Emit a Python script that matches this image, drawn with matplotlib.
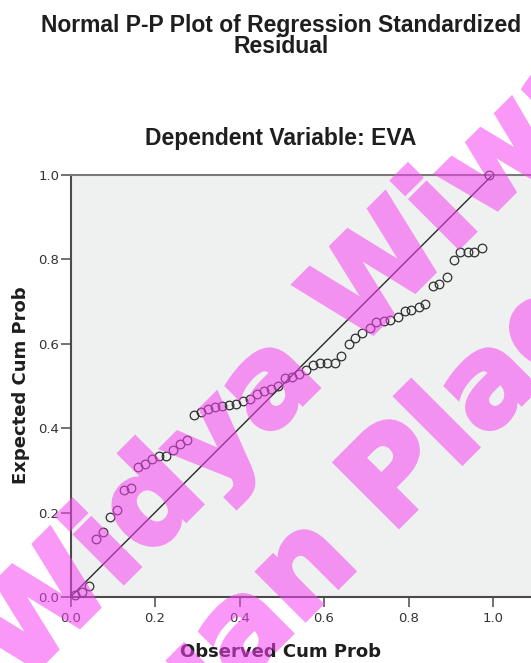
"""SPSS-style normal P-P plot of regression standardized residuals (DV: EVA)."""

import matplotlib

matplotlib.use("Agg")
import matplotlib.patheffects as pe
import matplotlib.pyplot as plt

W, H, DPI = 531, 663, 100

obs_cum_prob = [
    0.010, 0.027, 0.044, 0.060, 0.077, 0.093, 0.110, 0.127, 0.143, 0.160,
    0.176, 0.193, 0.210, 0.226, 0.243, 0.259, 0.276, 0.293, 0.309, 0.326,
    0.342, 0.359, 0.376, 0.392, 0.409, 0.425, 0.442, 0.459, 0.475, 0.492,
    0.508, 0.525, 0.542, 0.558, 0.575, 0.591, 0.608, 0.625, 0.641, 0.658,
    0.674, 0.691, 0.708, 0.724, 0.741, 0.757, 0.774, 0.791, 0.807, 0.824,
    0.840, 0.857, 0.873, 0.890, 0.907, 0.923, 0.940, 0.956, 0.973, 0.990,
]
exp_cum_prob = [
    0.005, 0.013, 0.025, 0.137, 0.154, 0.190, 0.207, 0.253, 0.257, 0.307,
    0.314, 0.326, 0.333, 0.333, 0.347, 0.361, 0.372, 0.430, 0.438, 0.445,
    0.450, 0.452, 0.455, 0.456, 0.463, 0.469, 0.481, 0.487, 0.492, 0.500,
    0.518, 0.520, 0.527, 0.537, 0.550, 0.553, 0.553, 0.553, 0.570, 0.598,
    0.614, 0.626, 0.636, 0.650, 0.654, 0.656, 0.662, 0.677, 0.680, 0.687,
    0.694, 0.735, 0.742, 0.758, 0.798, 0.817, 0.817, 0.817, 0.825, 0.998,
]
ticks = [0.0, 0.2, 0.4, 0.6, 0.8, 1.0]
tick_labels = ["0.0", "0.2", "0.4", "0.6", "0.8", "1.0"]

TEXT = "#1e1e1e"
PINK = "#f543f0"


def px(x, y):
    # image pixel (top-left origin) -> figure fraction
    return x / W, 1 - y / H


def _fade(alpha):
    # draw the watermark opaque (fill + stroke), then fade it as one layer
    def _filter(im, dpi):
        out = im.copy()
        out[..., 3] *= alpha
        return out, 0, 0
    return _filter


fig = plt.figure(figsize=(W / DPI, H / DPI), dpi=DPI, facecolor="white")

# plot box: x 0..1 spans px 70.5..492.7, y 0..1 spans px 597..174; box runs off the right edge
x0, y0, scale = 70.5, 597.0, 422.5
xmax = 1.2
ax = fig.add_axes([x0 / W, 1 - y0 / H, xmax * scale / W, scale / H])
ax.set_facecolor("#eff0f0")
ax.set_xlim(0, xmax)
ax.set_ylim(0, 1)

ax.plot([0, 1], [0, 1], color="#2a2a2a", lw=1.0, zorder=2)
ax.plot(
    obs_cum_prob, exp_cum_prob, linestyle="none", marker="o", markersize=6.2,
    markerfacecolor="none", markeredgecolor="#303030", markeredgewidth=0.9,
    clip_on=False, zorder=3,
)

for side in ("left", "bottom"):
    ax.spines[side].set_color("#4a4a4a")
    ax.spines[side].set_linewidth(1.5)
ax.spines["top"].set_color("#7a7a7a")
ax.spines["top"].set_linewidth(1.5)
ax.spines["right"].set_visible(False)

ax.set_xticks(ticks)
ax.set_xticklabels(tick_labels)
ax.set_yticks(ticks)
ax.set_yticklabels(tick_labels)
ax.tick_params(axis="both", direction="out", length=7, width=1.1, color="#4a4a4a",
               labelsize=9.5, labelcolor="#333333")
ax.tick_params(axis="x", pad=4)
ax.tick_params(axis="y", pad=1)

fig.text(*px(281, 652), "Observed Cum Prob", ha="center", va="center",
         fontsize=13, fontweight="bold", color=TEXT)
fig.text(*px(21, 385), "Expected Cum Prob", ha="center", va="center", rotation=90,
         fontsize=13, fontweight="bold", color=TEXT)

title_font = dict(family="Liberation Sans", fontsize=16.5, fontweight="bold", color=TEXT,
                  ha="center", va="baseline")
fig.text(*px(281, 32), "Normal P-P Plot of Regression Standardized", **title_font)
fig.text(*px(281, 53), "Residual", **title_font)
fig.text(*px(281, 145), "Dependent Variable: EVA", **title_font)

# repository watermark, drawn over everything
mark_font = dict(family="DejaVu Sans", fontsize=89, fontweight="bold", color=PINK,
                 rotation=45, rotation_mode="anchor", ha="left", va="baseline", zorder=10)
for text, (mx, my) in [("Widya Wiwaha", (20, 686)), ("Jangan Plagiat", (23, 902))]:
    mark = fig.text(*px(mx, my), text, **mark_font)
    mark.set_path_effects([pe.withStroke(linewidth=3.5, foreground=PINK, joinstyle="miter")])
    mark.set_agg_filter(_fade(0.55))

fig.savefig("out.png", dpi=DPI, facecolor="white")
